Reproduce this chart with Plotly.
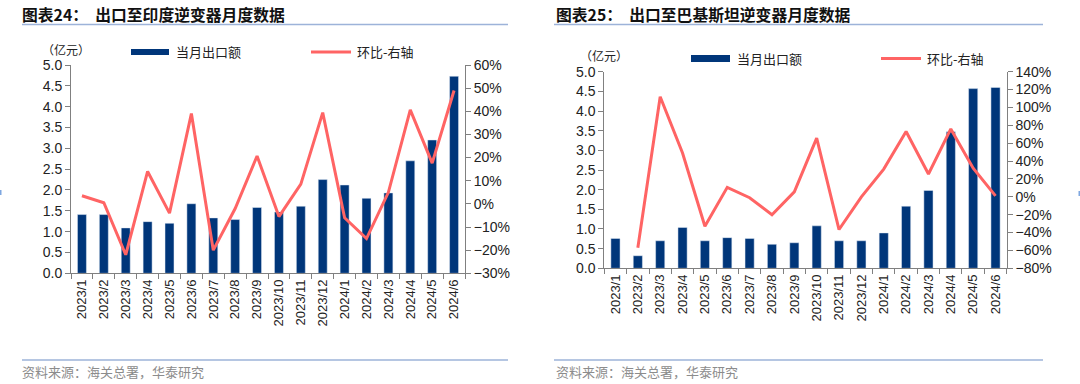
import plotly.graph_objects as go

months = ["2023/1", "2023/2", "2023/3", "2023/4", "2023/5", "2023/6", "2023/7", "2023/8", "2023/9",
          "2023/10", "2023/11", "2023/12", "2024/1", "2024/2", "2024/3", "2024/4", "2024/5", "2024/6"]

india_export = [1.41, 1.41, 1.09, 1.24, 1.20, 1.67, 1.33, 1.29, 1.58,
                1.47, 1.61, 2.25, 2.12, 1.80, 1.93, 2.70, 3.20, 4.73]
india_mom = [0.035, 0.005, -0.22, 0.14, -0.04, 0.39, -0.20, -0.02, 0.207,
             -0.055, 0.085, 0.394, -0.06, -0.15, 0.05, 0.406, 0.176, 0.49]

pak_export = [0.76, 0.32, 0.70, 1.04, 0.70, 0.78, 0.76, 0.61, 0.65,
              1.08, 0.70, 0.70, 0.90, 1.58, 1.98, 3.47, 4.57, 4.60]
pak_mom = [None, -0.57, 1.12, 0.49, -0.33, 0.106, -0.01, -0.20, 0.056,
           0.656, -0.366, 0.0, 0.31, 0.73, 0.255, 0.76, 0.32, 0.01]

title_left = "图表24：  出口至印度逆变器月度数据"
title_right = "图表25：  出口至巴基斯坦逆变器月度数据"
source_text = "资料来源：海关总署，华泰研究"
unit_text = "（亿元）"
bar_name = "当月出口额"
line_name = "环比-右轴"

BAR_C = "#00367A"
LINE_C = "#FF6464"
AX_C = "#808080"
TXT_C = "#222222"
FONT = "Liberation Sans, Arial, Noto Sans CJK SC"
CJK = "Noto Sans CJK SC"
W, H = 1080, 384

def px(x):
    return x / W

def py(y):
    return 1 - y / H

fig = go.Figure()

fig.add_trace(go.Bar(x=months, y=india_export, marker_color=BAR_C, xaxis="x", yaxis="y",
                     name=bar_name, showlegend=False))
fig.add_trace(go.Scatter(x=months, y=india_mom, mode="lines", line=dict(color=LINE_C, width=3),
                         xaxis="x", yaxis="y2", name=line_name, showlegend=False))
fig.add_trace(go.Bar(x=months, y=pak_export, marker_color=BAR_C, xaxis="x2", yaxis="y3",
                     name=bar_name, showlegend=False))
fig.add_trace(go.Scatter(x=months, y=pak_mom, mode="lines", line=dict(color=LINE_C, width=3),
                         xaxis="x2", yaxis="y4", name=line_name, showlegend=False))

xcommon = dict(type="category", tickangle=-90, showline=True, linecolor=AX_C, linewidth=1,
               ticks="outside", ticklen=5, tickcolor=AX_C, tickson="boundaries", automargin=False,
               showgrid=False, zeroline=False, tickfont=dict(size=13, color=TXT_C, family=FONT))
ycommon = dict(showline=True, linecolor=AX_C, linewidth=1, ticks="outside", ticklen=5,
               tickcolor=AX_C, showgrid=False, zeroline=False, automargin=False,
               tickfont=dict(size=14, color=TXT_C, family=FONT))

L_dom_x = [px(71), px(465)]
L_dom_y = [py(273.3), py(65)]
R_dom_x = [px(604.3), px(1006.7)]
R_dom_y = [py(268.3), py(71.7)]

fig.update_layout(
    width=W, height=H, margin=dict(l=0, r=0, t=0, b=0, autoexpand=False),
    paper_bgcolor="white", plot_bgcolor="white",
    bargap=0.59, showlegend=False,
    xaxis=dict(domain=L_dom_x, anchor="y", **xcommon),
    yaxis=dict(domain=L_dom_y, anchor="x", range=[0, 5], dtick=0.5, tickformat=".1f", side="left", **ycommon),
    yaxis2=dict(overlaying="y", anchor="x", side="right", range=[-0.3, 0.6], dtick=0.1, tickformat=".0%", **ycommon),
    xaxis2=dict(domain=R_dom_x, anchor="y3", **xcommon),
    yaxis3=dict(domain=R_dom_y, anchor="x2", range=[0, 5], dtick=0.5, tickformat=".1f", side="left", **ycommon),
    yaxis4=dict(overlaying="y3", anchor="x2", side="right", range=[-0.8, 1.4], dtick=0.2, tickformat=".0%", **ycommon),
)

shapes = []
annos = []

def add_panel_deco(x0, x1, title, tx, ty, unit_x, unit_y, leg):
    annos.append(dict(text="<b>" + title + "</b>", x=px(tx), y=py(ty), xref="paper", yref="paper",
                      xanchor="left", yanchor="middle", showarrow=False,
                      font=dict(size=15.8, color="#111111", family=CJK)))
    shapes.append(dict(type="line", x0=px(x0), x1=px(x1), y0=py(24.5), y1=py(24.5), xref="paper", yref="paper",
                       line=dict(color="#9DB3D9", width=1.5)))
    shapes.append(dict(type="line", x0=px(x0), x1=px(x1), y0=py(360), y1=py(360), xref="paper", yref="paper",
                       line=dict(color="#9DB3D9", width=1.5)))
    annos.append(dict(text=source_text, x=px(tx), y=py(371), xref="paper", yref="paper",
                      xanchor="left", yanchor="middle", showarrow=False,
                      font=dict(size=13, color="#8C8C8C", family=CJK)))
    annos.append(dict(text=unit_text, x=px(unit_x), y=py(unit_y), xref="paper", yref="paper",
                      xanchor="left", yanchor="middle", showarrow=False,
                      font=dict(size=12, color=TXT_C, family=CJK)))
    (bx0, bx1, by, bh, btx, lx0, lx1, ltx) = leg
    shapes.append(dict(type="rect", x0=px(bx0), x1=px(bx1), y0=py(by + bh / 2), y1=py(by - bh / 2),
                       xref="paper", yref="paper", fillcolor=BAR_C, line=dict(width=0)))
    annos.append(dict(text=bar_name, x=px(btx), y=py(by), xref="paper", yref="paper",
                      xanchor="left", yanchor="middle", showarrow=False,
                      font=dict(size=13, color=TXT_C, family=CJK)))
    shapes.append(dict(type="line", x0=px(lx0), x1=px(lx1), y0=py(by), y1=py(by),
                       xref="paper", yref="paper", line=dict(color=LINE_C, width=3)))
    annos.append(dict(text=line_name, x=px(ltx), y=py(by), xref="paper", yref="paper",
                      xanchor="left", yanchor="middle", showarrow=False,
                      font=dict(size=13, color=TXT_C, family=CJK)))

add_panel_deco(22, 508, title_left, 20, 14, 40, 49.5,
               (131, 169, 52, 6, 174, 311, 351, 355))
add_panel_deco(554, 1043, title_right, 554, 14, 578, 55.5,
               (691, 730, 58.5, 7, 735, 881, 921, 925))

shapes.append(dict(type="rect", x0=px(0), x1=px(1.5), y0=py(195), y1=py(190), xref="paper", yref="paper",
                   fillcolor="#7FA7E0", line=dict(width=0)))
shapes.append(dict(type="rect", x0=px(1078.5), x1=px(1080), y0=py(196), y1=py(191), xref="paper", yref="paper",
                   fillcolor="#7FA7E0", line=dict(width=0)))

fig.update_layout(shapes=shapes, annotations=annos)
fig.write_html("out.html", config={"displayModeBar": False, "staticPlot": True},
               post_script="document.body.style.margin='0';document.body.style.overflow='hidden';")
